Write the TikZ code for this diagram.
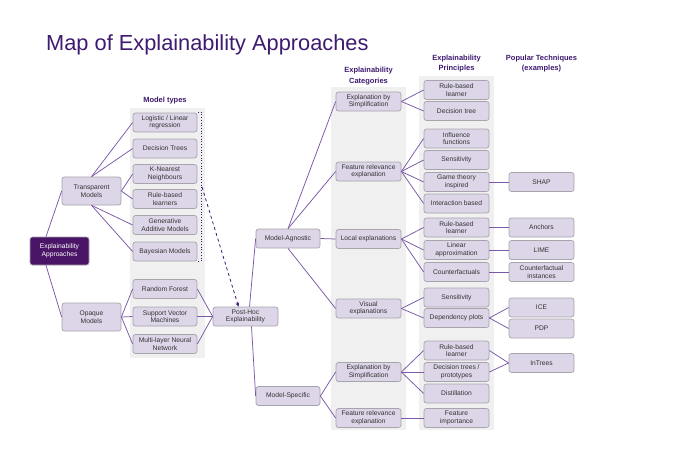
\documentclass[tikz,border=0pt]{standalone}
\usepackage{fontspec}
\setmainfont{Liberation Sans}
\usetikzlibrary{arrows.meta}
\definecolor{boxfill}{HTML}{DDD5E8}
\definecolor{boxline}{HTML}{A8A4AC}
\definecolor{linkc}{HTML}{7B58A8}
\definecolor{titlec}{HTML}{3E1A70}
\definecolor{darkbox}{HTML}{4A1566}
\definecolor{colbg}{HTML}{F0F0F0}
\definecolor{txt}{HTML}{333333}
\begin{document}
\begin{tikzpicture}[x=1pt,y=-1pt,
  box/.style={draw=boxline, fill=boxfill, rounded corners=2.5pt, line width=0.7pt,
    minimum width=64pt, minimum height=19pt, inner sep=0.5pt, align=center,
    text=txt, font=\fontsize{6.7}{7.5}\selectfont},
  bigbox/.style={box, minimum width=59pt, minimum height=28pt},
  hdr/.style={align=center, text=titlec, font=\bfseries\fontsize{7.5}{10.5}\selectfont},
  link/.style={draw=linkc, line width=0.75pt},
  colrect/.style={fill=colbg, draw=none}]
\useasboundingbox (0,0) rectangle (674,455);
\fill[white] (0,0) rectangle (674,455);
% column backgrounds
\path[colrect] (130,108) rectangle (205,358);
\path[colrect] (331,87) rectangle (406,430);
\path[colrect] (419,76) rectangle (494,430);
% title and headers
\node[anchor=west, text=titlec, font=\fontsize{21.8}{26}\selectfont, inner sep=0] (title) at (46,45) {Map of Explainability Approaches};
\node[hdr] (hmt) at (165,101) {Model types};
\node[hdr] (hcat) at (368.5,76) {Explainability\\Categories};
\node[hdr] (hpri) at (456.5,63.5) {Explainability\\Principles};
\node[hdr] (htec) at (541.5,63.5) {Popular Techniques\\(examples)};
% root
\node[bigbox, fill=darkbox, draw=boxline, text=white] (ea) at (59.5,251) {Explainability\\Approaches};
\node[bigbox] (tm) at (91.5,191) {Transparent\\Models};
\node[bigbox] (om) at (91.5,317) {Opaque\\Models};
% model types
\node[box] (log) at (165,122.5) {Logistic / Linear\\regression};
\node[box] (dt) at (165,148.5) {Decision Trees};
\node[box] (knn) at (165,174) {K-Nearest\\Neighbours};
\node[box] (rbl) at (165,199) {Rule-based\\learners};
\node[box] (gam) at (165,225) {Generative\\Additive Models};
\node[box] (bay) at (165,251.5) {Bayesian Models};
\node[box] (rf) at (165,289) {Random Forest};
\node[box] (svm) at (165,316.5) {Support Vector\\Machines};
\node[box] (mln) at (165,344) {Multi-layer Neural\\Network};
\node[box, minimum width=65pt] (ph) at (245.5,316.5) {Post-Hoc\\Explainability};
\node[box] (ma) at (288,238.5) {Model-Agnostic};
\node[box] (ms) at (288,396) {Model-Specific};
% categories
\node[box, minimum width=65pt] (ebs1) at (368.5,101.5) {Explanation by\\Simplification};
\node[box, minimum width=65pt] (fre1) at (368.5,171.5) {Feature relevance\\explanation};
\node[box, minimum width=65pt] (le) at (368.5,239) {Local explanations};
\node[box, minimum width=65pt] (ve) at (368.5,308.5) {Visual\\explanations};
\node[box, minimum width=65pt] (ebs2) at (368.5,372) {Explanation by\\Simplification};
\node[box, minimum width=65pt] (fre2) at (368.5,418) {Feature relevance\\explanation};
% principles
\node[box, minimum width=65pt] (p1) at (456.5,90) {Rule-based\\learner};
\node[box, minimum width=65pt] (p2) at (456.5,111) {Decision tree};
\node[box, minimum width=65pt] (p3) at (456.5,138.5) {Influence\\functions};
\node[box, minimum width=65pt] (p4) at (456.5,160) {Sensitivity};
\node[box, minimum width=65pt] (p5) at (456.5,182) {Game theory\\inspired};
\node[box, minimum width=65pt] (p6) at (456.5,203.5) {Interaction based};
\node[box, minimum width=65pt] (p7) at (456.5,227.5) {Rule-based\\learner};
\node[box, minimum width=65pt] (p8) at (456.5,250) {Linear\\approximation};
\node[box, minimum width=65pt] (p9) at (456.5,272) {Counterfactuals};
\node[box, minimum width=65pt] (p10) at (456.5,297.5) {Sensitivity};
\node[box, minimum width=65pt] (p11) at (456.5,318) {Dependency plots};
\node[box, minimum width=65pt] (p12) at (456.5,350.5) {Rule-based\\learner};
\node[box, minimum width=65pt] (p13) at (456.5,372) {Decision trees /\\prototypes};
\node[box, minimum width=65pt] (p14) at (456.5,393.5) {Distillation};
\node[box, minimum width=65pt] (p15) at (456.5,418) {Feature\\importance};
% techniques
\node[box, minimum width=65pt] (shap) at (541.5,182) {SHAP};
\node[box, minimum width=65pt] (anc) at (541.5,227.5) {Anchors};
\node[box, minimum width=65pt] (lime) at (541.5,250) {LIME};
\node[box, minimum width=65pt] (ci) at (541.5,272) {Counterfactual\\instances};
\node[box, minimum width=65pt] (ice) at (541.5,307.5) {ICE};
\node[box, minimum width=65pt] (pdp) at (541.5,328.5) {PDP};
\node[box, minimum width=65pt] (intr) at (541.5,363) {InTrees};
% bracket and dashed arrow
\coordinate (bt1) at (198,112);
\coordinate (bt2) at (201,112);
\coordinate (bb2) at (201,261);
\coordinate (bb1) at (198,261);
\coordinate (bm) at (202,187);
\draw[titlec, line width=0.7pt, dotted] (bt1) -- (bt2) -- (bb2) -- (bb1);
\draw[titlec, line width=0.8pt, dashed, -{Stealth[length=4pt,width=3.5pt]}] (bm) -- ([xshift=-7pt]ph.north);
% links
\path[link] ([xshift=-13.5pt]ea.north) -- (tm.west);
\path[link] ([xshift=-13.5pt]ea.south) -- (om.west);
\path[link] (tm.north) -- (log.west);
\path[link] (tm.north) -- (dt.west);
\path[link] (tm.east) -- (knn.west);
\path[link] (tm.east) -- (rbl.west);
\path[link] (tm.south) -- (gam.west);
\path[link] (tm.south) -- (bay.west);
\path[link] (om.east) -- (rf.west);
\path[link] (om.east) -- (svm.west);
\path[link] (om.east) -- (mln.west);
\path[link] (rf.east) -- (ph.west);
\path[link] (svm.east) -- (ph.west);
\path[link] (mln.east) -- (ph.west);
\path[link] ([xshift=4pt]ph.north) -- (ma.west);
\path[link] ([xshift=6pt]ph.south) -- (ms.west);
\path[link] (ma.north) -- (ebs1.west);
\path[link] (ma.north) -- (fre1.west);
\path[link] (ma.east) -- (le.west);
\path[link] (ma.south) -- (ve.west);
\path[link] (ms.east) -- (ebs2.west);
\path[link] (ms.east) -- (fre2.west);
\path[link] (ebs1.east) -- (p1.west);
\path[link] (ebs1.east) -- (p2.west);
\path[link] (fre1.east) -- (p3.west);
\path[link] (fre1.east) -- (p4.west);
\path[link] (fre1.east) -- (p5.west);
\path[link] (fre1.east) -- (p6.west);
\path[link] (le.east) -- (p7.west);
\path[link] (le.east) -- (p8.west);
\path[link] (le.east) -- (p9.west);
\path[link] (ve.east) -- (p10.west);
\path[link] (ve.east) -- (p11.west);
\path[link] (ebs2.east) -- (p12.west);
\path[link] (ebs2.east) -- (p13.west);
\path[link] (ebs2.east) -- (p14.west);
\path[link] (fre2.east) -- (p15.west);
\path[link] (p5.east) -- (shap.west);
\path[link] (p7.east) -- (anc.west);
\path[link] (p8.east) -- (lime.west);
\path[link] (p9.east) -- (ci.west);
\path[link] (p11.east) -- (ice.west);
\path[link] (p11.east) -- (pdp.west);
\path[link] (p12.east) -- (intr.west);
\path[link] (p13.east) -- (intr.west);
\end{tikzpicture}
\end{document}
